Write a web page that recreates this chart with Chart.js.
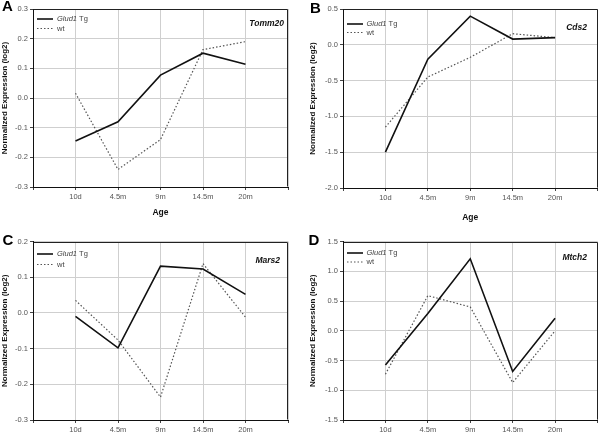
<!DOCTYPE html>
<html>
<head>
<meta charset="utf-8">
<script src="https://cdn.jsdelivr.net/npm/chart.js@4/dist/chart.umd.min.js"></script>
<style>
  body { margin: 0; background: #fff; }
  #wrap { position: relative; width: 600px; height: 433px; overflow: hidden; background: #fff; }
  #wrap canvas { position: absolute; }
</style>
</head>
<body>
<div id="wrap">
  <canvas id="panelA" width="300" height="224" style="left:0;top:0"></canvas>
  <canvas id="panelB" width="300" height="224" style="left:300px;top:0"></canvas>
  <canvas id="panelC" width="300" height="217" style="left:0;top:216px"></canvas>
  <canvas id="panelD" width="300" height="217" style="left:300px;top:216px"></canvas>
</div>
<script>
// Ages sampled (x axis categories)
const ages = ['10d', '4.5m', '9m', '14.5m', '20m'];

// Tomm20 (panel A)
const tomm20Tg = [-0.145, -0.080, 0.077, 0.151, 0.114];
const tomm20Wt = [0.016, -0.241, -0.140, 0.163, 0.190];

// Cds2 (panel B)
const cds2Tg = [-1.50, -0.20, 0.40, 0.08, 0.10];
const cds2Wt = [-1.15, -0.45, -0.175, 0.155, 0.10];

// Mars2 (panel C)
const mars2Tg = [-0.010, -0.098, 0.131, 0.123, 0.052];
const mars2Wt = [0.035, -0.076, -0.236, 0.138, -0.012];

// Mtch2 (panel D)
const mtch2Tg = [-0.575, 0.29, 1.21, -0.685, 0.21];
const mtch2Wt = [-0.73, 0.59, 0.40, -0.87, 0.0];

// y axis ranges per panel
const yRangeA = [-0.3, 0.3, 0.1];
const yRangeB = [-2.0, 0.5, 0.5];
const yRangeC = [-0.3, 0.2, 0.1];
const yRangeD = [-1.5, 1.5, 0.5];

const FONT = "'Liberation Sans', Arial, sans-serif";

const panels = [
    { id: 'panelA', letter: 'A', gene: 'Tomm20', tg: tomm20Tg, wt: tomm20Wt, yRange: yRangeA,
      padTop: 9, padRight: 12, yWidth: 33, xHeight: 37, yTitlePad: 0, xTitle: true, xTitlePad: 5.9,
      letterX: 2, letterY: 11, geneX: 284, geneY: 24, legX: 37, legY1: 19, legY2: 28.5, legText: 57 },
    { id: 'panelB', letter: 'B', gene: 'Cds2', tg: cds2Tg, wt: cds2Wt, yRange: yRangeB,
      padTop: 9, padRight: 2, yWidth: 43, xHeight: 36, yTitlePad: 8, xTitle: true, xTitlePad: 1.4,
      letterX: 10, letterY: 12.5, geneX: 287, geneY: 28, legX: 47, legY1: 24, legY2: 32.5, legText: 66.5 },
    { id: 'panelC', letter: 'C', gene: 'Mars2', tg: mars2Tg, wt: mars2Wt, yRange: yRangeC,
      padTop: 25.5, padRight: 12, yWidth: 33, xHeight: 13, yTitlePad: 0, xTitle: false, xTitlePad: 0,
      letterX: 2.5, letterY: 29, geneX: 280, geneY: 45, legX: 37, legY1: 38, legY2: 48.5, legText: 57 },
    { id: 'panelD', letter: 'D', gene: 'Mtch2', tg: mtch2Tg, wt: mtch2Wt, yRange: yRangeD,
      padTop: 25.5, padRight: 1, yWidth: 43, xHeight: 13, yTitlePad: 8, xTitle: false, xTitlePad: 0,
      letterX: 8.5, letterY: 29, geneX: 287, geneY: 42, legX: 47, legY1: 37, legY2: 46, legText: 66.5 }
];

function toPoints(values) {
    return values.map((v, i) => ({ x: i + 1, y: v }));
}

function fmtTick(v) {
    if (Math.abs(v) < 1e-9) v = 0;
    return v.toFixed(1);
}

// Frame, panel letter, gene name and the inline legend
function decoPlugin(p) {
    return {
        id: 'deco',
        afterDraw(chart) {
            const ctx = chart.ctx;
            const a = chart.chartArea;
            ctx.save();

            // top / right frame
            const l = Math.round(a.left) + 0.5, r = Math.round(a.right) - 0.5;
            const t = Math.round(a.top) + 0.5, b = Math.round(a.bottom) - 0.5;
            ctx.strokeStyle = '#222';
            ctx.lineWidth = 1;
            ctx.beginPath();
            ctx.moveTo(l, t); ctx.lineTo(r, t); ctx.lineTo(r, b);
            ctx.stroke();

            // panel letter
            ctx.fillStyle = '#000';
            ctx.font = 'bold 15px ' + FONT;
            ctx.textAlign = 'left';
            ctx.textBaseline = 'alphabetic';
            ctx.fillText(p.letter, p.letterX, p.letterY);

            // gene name
            ctx.font = 'italic bold 8.5px ' + FONT;
            ctx.textAlign = 'right';
            ctx.textBaseline = 'middle';
            ctx.fillStyle = '#111';
            ctx.fillText(p.gene, p.geneX, p.geneY);

            // legend
            ctx.strokeStyle = '#111';
            ctx.lineWidth = 1.6;
            ctx.beginPath();
            ctx.moveTo(p.legX, p.legY1); ctx.lineTo(p.legX + 16, p.legY1);
            ctx.stroke();
            ctx.strokeStyle = '#555';
            ctx.lineWidth = 1.2;
            ctx.setLineDash([1.5, 2]);
            ctx.beginPath();
            ctx.moveTo(p.legX, p.legY2); ctx.lineTo(p.legX + 16, p.legY2);
            ctx.stroke();
            ctx.setLineDash([]);

            ctx.textAlign = 'left';
            ctx.fillStyle = '#444';
            ctx.font = 'italic 7.5px ' + FONT;
            ctx.fillText('Glud1', p.legText, p.legY1);
            const w = ctx.measureText('Glud1').width;
            ctx.font = '7.5px ' + FONT;
            ctx.fillText(' Tg', p.legText + w, p.legY1);
            ctx.fillText('wt', p.legText, p.legY2);

            ctx.restore();
        }
    };
}

function makePanel(p) {
    const ctx = document.getElementById(p.id).getContext('2d');
    const tickFont = { family: FONT, size: 7.5 };
    return new Chart(ctx, {
        type: 'line',
        data: {
            datasets: [
                {
                    label: 'Glud1 Tg',
                    data: toPoints(p.tg),
                    borderColor: '#111',
                    borderWidth: 1.6,
                    pointRadius: 0,
                    tension: 0,
                    fill: false
                },
                {
                    label: 'wt',
                    data: toPoints(p.wt),
                    borderColor: '#555',
                    borderWidth: 1.2,
                    borderDash: [1.5, 2],
                    pointRadius: 0,
                    tension: 0,
                    fill: false
                }
            ]
        },
        options: {
            responsive: false,
            animation: false,
            devicePixelRatio: 1,
            layout: { padding: { top: p.padTop, right: p.padRight, left: 0, bottom: 0 } },
            plugins: {
                legend: { display: false },
                tooltip: { enabled: false }
            },
            scales: {
                x: {
                    type: 'linear',
                    min: 0,
                    max: 6,
                    ticks: {
                        stepSize: 1,
                        autoSkip: false,
                        maxRotation: 0,
                        padding: 2.5,
                        color: '#555',
                        font: tickFont,
                        callback: v => ages[v - 1] || ''
                    },
                    grid: { color: '#cfcfcf', tickColor: '#444', tickLength: 3 },
                    border: { color: '#111' },
                    title: {
                        display: p.xTitle,
                        text: 'Age',
                        color: '#111',
                        font: { family: FONT, size: 8.5, weight: 'bold' },
                        padding: { top: 0, bottom: p.xTitlePad }
                    },
                    afterFit: s => { s.height = p.xHeight; }
                },
                y: {
                    min: p.yRange[0],
                    max: p.yRange[1],
                    ticks: {
                        stepSize: p.yRange[2],
                        padding: 2,
                        color: '#555',
                        font: tickFont,
                        callback: fmtTick
                    },
                    grid: { color: '#cfcfcf', tickColor: '#444', tickLength: 3 },
                    border: { color: '#111' },
                    title: {
                        display: true,
                        text: 'Normalized Expression (log2)',
                        color: '#111',
                        font: { family: FONT, size: 8, weight: 'bold' },
                        padding: { top: p.yTitlePad, bottom: 0 }
                    },
                    afterFit: s => { s.width = p.yWidth; }
                }
            }
        },
        plugins: [decoPlugin(p)]
    });
}

panels.forEach(makePanel);
</script>
</body>
</html>
